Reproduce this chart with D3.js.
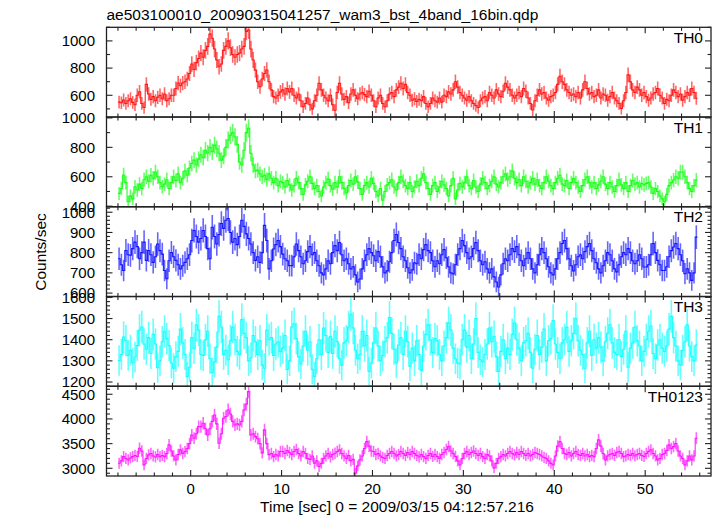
<!DOCTYPE html>
<html><head><meta charset="utf-8">
<script src="https://cdn.jsdelivr.net/npm/d3@7"></script>
<style>body{margin:0;background:#fff} svg{display:block} text{font-family:"Liberation Sans",Arial,sans-serif;fill:#000}</style>
</head><body>
<script>
const title = "ae503100010_20090315041257_wam3_bst_4band_16bin.qdp";
const xLabel = "Time [sec] 0 = 2009/03/15 04:12:57.216";
const yLabel = "Counts/sec";
const panelNames = ["TH0", "TH1", "TH2", "TH3", "TH0123"];
const panelColors = ["#ff0000", "#00ff00", "#0000ff", "#00ffff", "#ff00ff"];
const yDomains = [[440, 1100], [396, 1006], [583, 1027], [1180, 1604], [2844, 4662]];
const yMajorTicks = [[600, 800, 1000], [400, 600, 800, 1000], [600, 700, 800, 900, 1000], [1200, 1300, 1400, 1500, 1600], [3000, 3500, 4000, 4500]];
const yMinorSteps = [100, 100, 20, 20, 100];
const xMajorTicks = [0, 10, 20, 30, 40, 50];
const xMinorStep = 2;
const xDomain = [-9.26, 57.24];
const tStart = -7.875, binWidth = 0.25;

const th0 = [
550,545,565,540, 560,575,548,530, 600,626,540,510, 680,610,570,590,
560,585,600,575, 610,560,575,600, 600,650,690,670, 690,700,720,760,
830,790,840,870, 910,880,930,960, 1050,1020,940,860, 810,830,930,960,
1000,950,900,880, 900,910,940,960, 1070,1080,940,860, 785,700,663,720,
760,786,700,640, 590,580,600,625, 640,610,650,625, 650,600,580,610,
560,516,540,580, 530,500,560,600, 688,640,600,580, 560,600,530,490,
620,688,610,570, 590,545,610,640, 600,575,610,620, 605,590,630,600,
560,516,580,600, 540,516,560,610, 620,590,640,660, 688,650,680,620,
600,563,575,555, 570,560,590,540, 516,540,580,560, 550,580,550,600,
590,625,610,640, 700,660,620,600, 580,563,590,560, 540,525,510,560,
580,590,560,620, 600,580,640,610, 590,630,688,660, 640,600,580,600,
620,590,650,630, 580,540,492,560, 600,640,610,620, 580,563,590,600,
620,680,740,700, 680,640,620,600, 610,590,620,580, 640,700,650,610,
620,590,600,640, 580,610,600,563, 590,620,580,560, 540,504,560,620,
750,700,640,620, 660,640,600,620, 590,563,580,610, 620,650,600,580,
540,570,560,600, 640,620,590,610, 563,590,620,600, 650,620,578];

const th1 = [
487,520,612,560, 430,470,450,532, 510,550,520,580, 600,570,610,590,
632,600,560,532, 550,580,520,560, 600,575,620,560, 590,640,610,660,
690,713,680,720, 750,730,780,760, 800,770,815,790, 760,713,740,800,
850,883,900,870, 820,700,680,780, 900,930,760,680, 640,645,620,600,
610,580,620,590, 560,590,540,570, 560,530,575,545, 510,540,590,560,
520,480,545,570, 600,555,520,540, 500,470,530,560, 585,540,515,560,
530,600,560,520, 490,540,575,550, 600,565,520,480, 540,560,530,590,
555,500,470,520, 440,500,545,560, 580,530,510,560, 600,570,540,520,
560,500,530,570, 540,590,620,560, 520,480,540,560, 500,530,570,545,
520,470,540,590, 450,510,555,530, 560,600,540,520, 575,530,500,550,
590,560,520,540, 570,600,550,530, 560,600,620,580, 600,640,590,560,
580,540,600,570, 530,560,590,550, 580,540,520,560, 600,570,540,520,
560,590,610,550, 540,575,520,560, 590,560,530,500, 540,580,600,560,
530,560,520,545, 570,600,550,520, 560,530,500,540, 580,545,520,560,
500,540,575,550, 560,530,555,545, 555,560,530,487, 520,500,470,450,
430,480,540,560, 578,600,590,632, 632,600,560,520, 500,540,578];

const th2 = [
770,740,712,811, 790,787,820,852, 830,770,800,852, 762,811,790,752,
780,843,810,793, 712,671,760,801, 780,762,740,720, 735,752,770,790,
860,910,880,852, 870,910,880,820, 770,926,880,843, 890,944,920,960,
969,900,852,870, 840,880,960,930, 893,870,843,800, 762,780,752,800,
935,860,720,760, 818,840,860,830, 793,770,760,736, 736,780,843,810,
780,745,760,805, 830,790,800,760, 735,700,690,720, 760,745,800,835,
810,850,790,760, 770,745,720,730, 690,655,670,720, 760,790,820,800,
785,760,805,780, 730,700,710,755, 800,860,890,850, 820,780,760,725,
700,715,750,745, 790,770,815,840, 810,800,760,730, 760,745,790,815,
775,730,700,695, 740,790,820,860, 835,800,770,780, 820,850,810,760,
740,755,720,700, 720,680,655,630, 690,745,770,760, 790,820,805,830,
790,760,735,770, 800,770,720,700, 740,790,820,800, 770,730,700,690,
720,770,800,845, 860,820,770,735, 710,740,780,790, 770,805,830,845,
810,770,750,720, 700,735,760,800, 790,760,720,705, 740,780,800,790,
820,800,760,745, 760,790,770,729, 729,740,790,845, 800,762,740,712,
712,730,780,810, 828,845,820,790, 760,696,720,700, 663,700,877];

const th3 = [
1302,1330,1412,1395, 1326,1350,1290,1318, 1372,1445,1460,1380, 1355,1410,1335,1425,
1380,1268,1300,1390, 1440,1405,1372,1290, 1265,1320,1345,1450, 1385,1330,1225,1270,
1410,1360,1470,1445, 1330,1325,1400,1440, 1310,1245,1295,1365, 1510,1460,1330,1350,
1305,1395,1460,1400, 1345,1330,1495,1430, 1410,1300,1315,1420, 1390,1330,1395,1280,
1265,1445,1400,1410, 1325,1380,1390,1345, 1360,1420,1260,1300, 1460,1475,1405,1320,
1285,1370,1440,1350, 1390,1260,1225,1310, 1400,1330,1455,1420, 1340,1415,1335,1440,
1390,1310,1280,1385, 1395,1460,1520,1455, 1350,1310,1330,1440, 1370,1420,1250,1290,
1385,1455,1370,1300, 1325,1390,1410,1505, 1430,1355,1290,1375, 1410,1330,1440,1390,
1275,1360,1300,1395, 1330,1255,1370,1425, 1470,1400,1340,1405, 1395,1330,1300,1370,
1410,1480,1445,1360, 1310,1290,1285,1400, 1445,1365,1420,1310, 1380,1500,1340,1305,
1295,1330,1380,1455, 1390,1415,1320,1250, 1345,1400,1310,1360, 1330,1425,1480,1400,
1360,1300,1385,1395, 1430,1340,1265,1355, 1420,1330,1365,1450, 1300,1395,1405,1490,
1380,1340,1310,1385, 1400,1460,1345,1395, 1430,1500,1395,1350, 1330,1265,1385,1440,
1325,1400,1360,1410, 1365,1300,1390,1430, 1470,1385,1340,1330, 1400,1320,1355,1440,
1270,1360,1385,1460, 1395,1370,1300,1345, 1400,1440,1465,1335, 1310,1375,1400,1360,
1345,1370,1450,1510, 1410,1370,1300,1280, 1350,1390,1470,1370, 1320,1300,1375];

const th0123 = [
3103,3150,3237,3200, 3170,3210,3237,3260, 3240,3407,3350,3069, 3200,3271,3300,3250,
3230,3280,3237,3260, 3237,3300,3474,3350, 3250,3170,3280,3373, 3300,3338,3400,3500,
3676,3610,3700,3844, 3844,3912,3800,3676, 3800,3950,4080,3900, 3508,3700,4013,4050,
4182,4100,3950,3878, 3900,3878,3950,4182, 4300,4553,3676,3700, 3642,3600,3500,3312,
3778,3500,3278,3300, 3237,3280,3250,3340, 3340,3300,3360,3320, 3280,3340,3380,3300,
3250,3340,3300,3200, 3180,3250,3103,3150, 3035,3100,3200,3250, 3300,3230,3280,3305,
3340,3373,3300,3250, 3200,3260,3150,3180, 2900,3050,3170,3250, 3400,3541,3450,3350,
3340,3280,3300,3250, 3220,3200,3260,3300, 3340,3300,3250,3280, 3340,3300,3260,3320,
3280,3340,3300,3260, 3230,3280,3237,3200, 3260,3300,3240,3280, 3237,3200,3280,3320,
3380,3440,3350,3300, 3240,3150,3069,3200, 3300,3340,3280,3320, 3350,3300,3260,3300,
3237,3200,3280,3250, 3150,3008,3100,3200, 3237,3280,3250,3300, 3340,3300,3270,3320,
3280,3340,3300,3260, 3300,3250,3280,3320, 3300,3280,3250,3220, 3200,3150,3100,3069,
3250,3450,3541,3400, 3300,3280,3320,3250, 3300,3340,3280,3260, 3300,3250,3280,3237,
3260,3237,3400,3575, 3450,3300,3170,3250, 3280,3300,3260,3320, 3340,3300,3237,3250,
3280,3260,3300,3250, 3280,3300,3260,3240, 3300,3340,3373,3300, 3250,3170,3200,3280,
3300,3360,3474,3400, 3440,3500,3350,3250, 3200,3069,3150,3250, 3170,3250,3610];

const seriesValues = [th0, th1, th2, th3, th0123];

const W = 717, H = 516;
const M = {left: 106.5, right: 711, top: 27.3, bottom: 476};
const nP = 5;
const pH = (M.bottom - M.top) / nP;

const svg = d3.select("body").append("svg").attr("width", W).attr("height", H);

const x = d3.scaleLinear().domain(xDomain).range([M.left, M.right]);
const xMinor = d3.range(-8, 57, xMinorStep).filter(v => !xMajorTicks.includes(v));

const majLen = 6, minLen = 3.5;
const axisColor = "#222";

svg.append("text").attr("x", M.left).attr("y", 20).attr("font-size", 15.5).text(title);

seriesValues.forEach((vals, p) => {
  const y0 = M.top + p * pH, y1 = y0 + pH;
  const y = d3.scaleLinear().domain(yDomains[p]).range([y1, y0]);
  const g = svg.append("g");
  const clipId = "clip" + p;
  svg.append("clipPath").attr("id", clipId).append("rect")
    .attr("x", M.left).attr("y", y0).attr("width", M.right - M.left).attr("height", pH);

  const pts = vals.map((v, i) => ({t: tStart + i * binWidth, v, e: Math.sqrt(v / binWidth)}));
  const dg = g.append("g").attr("clip-path", `url(#${clipId})`);
  dg.append("path")
    .attr("d", pts.map(d => `M${x(d.t)},${y(d.v - d.e)}V${y(d.v + d.e)}`).join(""))
    .attr("fill", "none").attr("stroke", panelColors[p]).attr("stroke-width", 1.6).attr("stroke-opacity", 0.6);
  const stepPts = [{t: pts[0].t - binWidth / 2, v: pts[0].v}, ...pts, {t: pts[pts.length - 1].t + binWidth / 2, v: pts[pts.length - 1].v}];
  dg.append("path")
    .attr("d", d3.line().x(d => x(d.t)).y(d => y(d.v)).curve(d3.curveStep)(stepPts))
    .attr("fill", "none").attr("stroke", panelColors[p]).attr("stroke-width", 1.1).attr("stroke-opacity", 0.85);

  g.append("rect").attr("x", M.left).attr("y", y0).attr("width", M.right - M.left).attr("height", pH)
    .attr("fill", "none").attr("stroke", axisColor).attr("stroke-width", 1.3);

  const [lo, hi] = yDomains[p];
  const yMinor = d3.range(Math.ceil(lo / yMinorSteps[p]) * yMinorSteps[p], hi + 0.001, yMinorSteps[p])
    .filter(v => !yMajorTicks[p].includes(v));
  const yt = g.append("g").attr("stroke", axisColor).attr("stroke-width", 1.1);
  yMajorTicks[p].filter(v => v >= lo && v <= hi).forEach(v => {
    yt.append("line").attr("x1", M.left).attr("x2", M.left + majLen).attr("y1", y(v)).attr("y2", y(v));
    yt.append("line").attr("x1", M.right).attr("x2", M.right - majLen).attr("y1", y(v)).attr("y2", y(v));
  });
  yMinor.forEach(v => {
    yt.append("line").attr("x1", M.left).attr("x2", M.left + minLen).attr("y1", y(v)).attr("y2", y(v));
    yt.append("line").attr("x1", M.right).attr("x2", M.right - minLen).attr("y1", y(v)).attr("y2", y(v));
  });
  yMajorTicks[p].forEach(v => {
    g.append("text").attr("x", 95).attr("y", y(v)).attr("dy", "0.36em").attr("text-anchor", "end")
      .attr("font-size", 15).text(v);
  });

  const xt = g.append("g").attr("stroke", axisColor).attr("stroke-width", 1.1);
  xMajorTicks.forEach(v => {
    xt.append("line").attr("x1", x(v)).attr("x2", x(v)).attr("y1", y1).attr("y2", y1 - majLen);
    xt.append("line").attr("x1", x(v)).attr("x2", x(v)).attr("y1", y0).attr("y2", y0 + majLen);
  });
  xMinor.forEach(v => {
    xt.append("line").attr("x1", x(v)).attr("x2", x(v)).attr("y1", y1).attr("y2", y1 - minLen);
    xt.append("line").attr("x1", x(v)).attr("x2", x(v)).attr("y1", y0).attr("y2", y0 + minLen);
  });

  g.append("text").attr("x", 703).attr("y", y0 + 15.5).attr("text-anchor", "end")
    .attr("font-size", 15.5).text(panelNames[p]);
});

xMajorTicks.forEach(v => {
  svg.append("text").attr("x", x(v)).attr("y", 493.5).attr("text-anchor", "middle").attr("font-size", 15).text(v);
});
svg.append("text").attr("x", 397).attr("y", 511.5).attr("text-anchor", "middle").attr("font-size", 15.5).text(xLabel);
svg.append("text").attr("transform", "translate(46,252) rotate(-90)").attr("text-anchor", "middle")
  .attr("font-size", 15.5).text(yLabel);
</script>
</body></html>
